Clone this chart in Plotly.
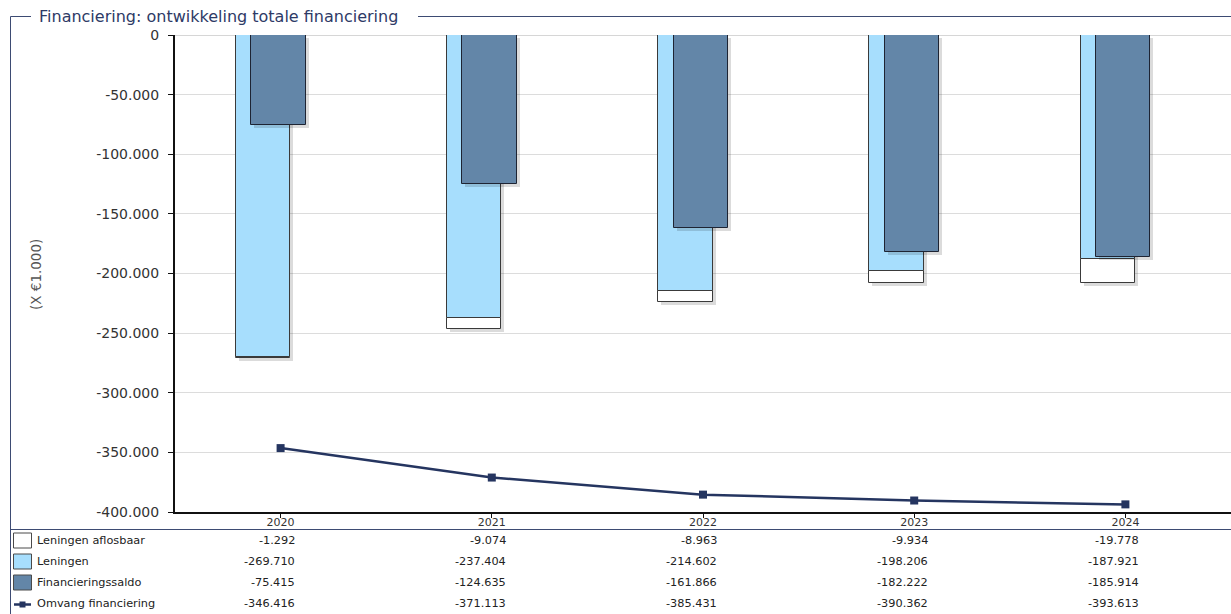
import plotly.graph_objects as go

# Data (x € 1.000)
jaren = ["2020", "2021", "2022", "2023", "2024"]
leningen_aflosbaar = [-1292, -9074, -8963, -9934, -19778]
leningen = [-269710, -237404, -214602, -198206, -187921]
financieringssaldo = [-75415, -124635, -161866, -182222, -185914]
omvang_financiering = [-346416, -371113, -385431, -390362, -393613]

y_tickvals = [0, -50000, -100000, -150000, -200000, -250000, -300000, -350000, -400000]
y_ticktext = ["0", "-50.000", "-100.000", "-150.000", "-200.000", "-250.000",
              "-300.000", "-350.000", "-400.000"]

reeks_namen = ["Leningen aflosbaar", "Leningen", "Financieringssaldo", "Omvang financiering"]


def fmt(v):
    s = f"{abs(v):,}".replace(",", ".")
    return ("-" if v < 0 else "") + s


# Colours
C_WIT = "#FFFFFF"
C_LICHT = "#A7DEFD"
C_DONKER = "#6386A8"
C_LIJN = "#253560"
C_RAND = "#3D4B73"
C_SCHADUW = "rgba(0,0,0,0.14)"

# Plot geometry (pixels)
W, H = 1231, 614
L, R, T, B = 175, 1231, 35, 512
PW, PH = R - L, B - T
YMIN, YMAX = -400000, 0


def px_x(x):
    return (x - L) / PW


def px_y(y):
    return (B - y) / PH


BAR_W = 0.257
OFF_LICHT = -0.212
OFF_DONKER = -0.139
SH_X = 3 / (PW / 5)              # shadow shift in category units
SH_Y = 3 * (YMAX - YMIN) / PH    # shadow shift in data units

fig = go.Figure()

totaal_lening = [a + b for a, b in zip(leningen, leningen_aflosbaar)]

# shadow of the loans stack
fig.add_trace(go.Bar(x=jaren, y=totaal_lening, base=[-SH_Y] * 5, width=BAR_W,
                     offset=OFF_LICHT + SH_X, marker=dict(color=C_SCHADUW, line=dict(width=0)),
                     showlegend=False, hoverinfo="skip"))
fig.add_trace(go.Bar(x=jaren, y=leningen, base=[0] * 5, width=BAR_W, offset=OFF_LICHT,
                     name="Leningen",
                     marker=dict(color=C_LICHT, line=dict(color="#3a3a3a", width=1))))
fig.add_trace(go.Bar(x=jaren, y=leningen_aflosbaar, base=leningen, width=BAR_W, offset=OFF_LICHT,
                     name="Leningen aflosbaar",
                     marker=dict(color=C_WIT, line=dict(color="#3a3a3a", width=1))))
# shadow of the financing balance
fig.add_trace(go.Bar(x=jaren, y=financieringssaldo, base=[-SH_Y] * 5, width=BAR_W,
                     offset=OFF_DONKER + SH_X, marker=dict(color=C_SCHADUW, line=dict(width=0)),
                     showlegend=False, hoverinfo="skip"))
fig.add_trace(go.Bar(x=jaren, y=financieringssaldo, base=[0] * 5, width=BAR_W, offset=OFF_DONKER,
                     name="Financieringssaldo",
                     marker=dict(color=C_DONKER, line=dict(color="#1e2433", width=1))))
fig.add_trace(go.Scatter(x=jaren, y=omvang_financiering, mode="lines+markers",
                         name="Omvang financiering",
                         line=dict(color=C_LIJN, width=2.5),
                         marker=dict(symbol="square", size=8, color=C_LIJN)))

FONT = "DejaVu Sans"

shapes = []
annotations = []

# frame around the chart
shapes.append(dict(type="line", xref="paper", yref="paper",
                   x0=px_x(10.5), x1=px_x(10.5), y0=px_y(16.5), y1=px_y(620),
                   line=dict(color=C_RAND, width=1)))
shapes.append(dict(type="line", xref="paper", yref="paper",
                   x0=px_x(10.5), x1=px_x(31), y0=px_y(16.5), y1=px_y(16.5),
                   line=dict(color=C_RAND, width=1)))
shapes.append(dict(type="line", xref="paper", yref="paper",
                   x0=px_x(418), x1=px_x(1235), y0=px_y(16.5), y1=px_y(16.5),
                   line=dict(color=C_RAND, width=1)))
# line above the data table
shapes.append(dict(type="line", xref="paper", yref="paper",
                   x0=px_x(10.5), x1=px_x(1235), y0=px_y(529.5), y1=px_y(529.5),
                   line=dict(color=C_RAND, width=1)))
# zero reference line along the top of the plot
shapes.append(dict(type="line", xref="paper", yref="y", layer="below",
                   x0=0, x1=1, y0=0, y1=0, line=dict(color="#C8C8C8", width=1.5)))

annotations.append(dict(text="Financiering: ontwikkeling totale financiering",
                        xref="paper", yref="paper", x=px_x(37), y=px_y(16),
                        xanchor="left", yanchor="middle", showarrow=False,
                        font=dict(family=FONT, size=16, color="#2E3A66")))
annotations.append(dict(text="(X €1.000)", xref="paper", yref="paper",
                        x=px_x(36), y=px_y(275), textangle=-90,
                        xanchor="center", yanchor="middle", showarrow=False,
                        font=dict(family=FONT, size=13.5, color="#555555")))

# data table with legend symbols
rij_y = [540.5, 561.5, 582.5, 603.5]
rij_data = [leningen_aflosbaar, leningen, financieringssaldo, omvang_financiering]
box_kleuren = [C_WIT, C_LICHT, C_DONKER]
for i, naam in enumerate(reeks_namen):
    yc = rij_y[i]
    if i < 3:
        shapes.append(dict(type="rect", xref="paper", yref="paper",
                           x0=px_x(13.5), x1=px_x(31.5), y0=px_y(yc - 7.5), y1=px_y(yc + 7.5),
                           fillcolor=box_kleuren[i], line=dict(color="#4a4a4a", width=1)))
    else:
        shapes.append(dict(type="line", xref="paper", yref="paper",
                           x0=px_x(14), x1=px_x(31), y0=px_y(yc + 1), y1=px_y(yc + 1),
                           line=dict(color=C_LIJN, width=2.5)))
        shapes.append(dict(type="rect", xref="paper", yref="paper",
                           x0=px_x(19.5), x1=px_x(25.5), y0=px_y(yc - 2), y1=px_y(yc + 4),
                           fillcolor=C_LIJN, line=dict(width=0)))
    annotations.append(dict(text=naam, xref="paper", yref="paper",
                            x=px_x(35), y=px_y(yc), xanchor="left", yanchor="middle",
                            showarrow=False, font=dict(family=FONT, size=11.3, color="#222222")))
    for j, v in enumerate(rij_data[i]):
        annotations.append(dict(text=fmt(v), xref="x", yref="paper",
                                x=j, y=px_y(yc), xanchor="right", yanchor="middle",
                                xshift=16, showarrow=False,
                                font=dict(family=FONT, size=11.3, color="#222222")))

fig.update_layout(
    width=W, height=H,
    margin=dict(l=L, r=W - R, t=T, b=H - B, pad=0),
    barmode="overlay",
    bargap=0,
    paper_bgcolor="white",
    plot_bgcolor="white",
    showlegend=False,
    font=dict(family=FONT, color="#333333"),
    shapes=shapes,
    annotations=annotations,
    xaxis=dict(type="category", categoryorder="array", categoryarray=jaren,
               range=[-0.5, 4.5], showgrid=False, showline=True, linecolor="#111111",
               linewidth=2, ticks="outside", ticklen=4, tickcolor="#111111",
               ticklabelstandoff=-5,
               tickfont=dict(family=FONT, size=11, color="#333333"), zeroline=False,
               fixedrange=True),
    yaxis=dict(range=[YMIN, YMAX], tickvals=y_tickvals, ticktext=y_ticktext,
               showgrid=True, gridcolor="#DCDCDC", gridwidth=1, zeroline=False,
               showline=True, linecolor="#111111", linewidth=2, ticks="outside",
               ticklen=5, tickcolor="#111111", ticklabelstandoff=6,
               tickfont=dict(family=FONT, size=14, color="#333333"), fixedrange=True),
)

fig.write_html("out.html", config={"displayModeBar": False, "responsive": False})
